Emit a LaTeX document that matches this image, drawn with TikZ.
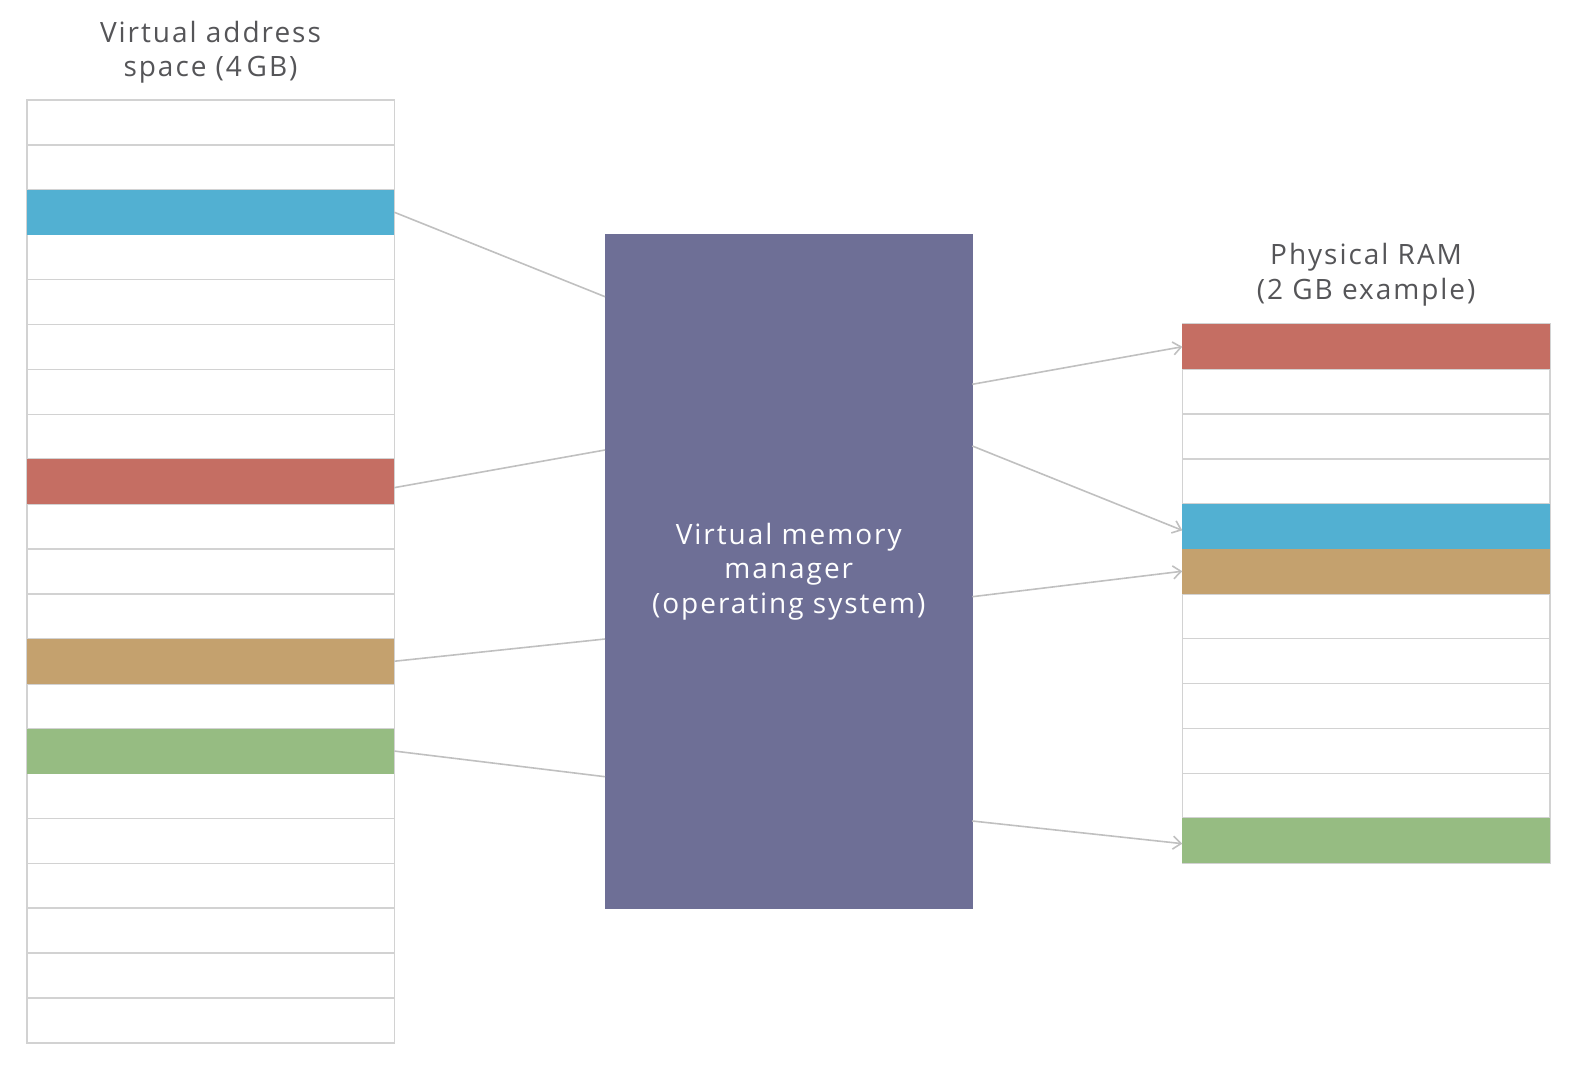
\documentclass[tikz,border=0pt]{standalone}
\usepackage{fontspec}
\setmainfont[LetterSpace=7]{Open Sans}
\usetikzlibrary{
    arrows.meta,
    positioning
}

\definecolor{pblue}{RGB}{82,176,210}
\definecolor{pred}{RGB}{197,110,99}
\definecolor{ptan}{RGB}{196,161,110}
\definecolor{pgreen}{RGB}{150,188,130}
\definecolor{vmmfill}{RGB}{110,111,150}
\definecolor{rowline}{RGB}{210,210,210}
\definecolor{linkgray}{RGB}{192,192,192}
\definecolor{labelgray}{RGB}{85,85,88}

\begin{document}
\begin{tikzpicture}[
    x=0.5pt, y=-0.5pt,
    font=\fontsize{14}{17.3}\selectfont,
    slot/.style={
        draw=rowline,
        line width=0.8pt,
        fill=white,
        anchor=north west,
        inner sep=0pt,
        outer sep=0pt,
        minimum width=183.8pt,
        minimum height=22.45pt
    },
    title/.style={text=labelgray, align=center, inner sep=0pt},
    link/.style={draw=linkgray, line width=0.8pt},
    arrow/.style={link, -{Straight Barb[length=4pt,width=6.5pt]}}
]

\useasboundingbox (0,0) rectangle (1596,1091);

\def\xl{26.7}
\def\xm{605}
\def\xr{1182.3}
\def\dy{44.9}

% ============================================================
% VIRTUAL ADDRESS SPACE (left) AND PHYSICAL RAM (right)
% ============================================================

\foreach \i in {1,...,21} {
    \node[slot] (v\i) at (\xl,{100+(\i-1)*\dy}) {};
}
\foreach \i in {1,...,12} {
    \node[slot] (r\i) at (\xr,{324.3+(\i-1)*\dy}) {};
}

\foreach \n/\c in {v3/pblue, v9/pred, v13/ptan, v15/pgreen,
                   r1/pred, r5/pblue, r6/ptan, r12/pgreen} {
    \fill[\c] (\n.north west) rectangle (\n.south east);
}

\node[title, above=8pt of v1.north] (vtitle) {Virtual address\\space (4\,GB)};
\node[title, above=9pt of r1.north] (rtitle) {Physical RAM\\(2 GB example)};

% ============================================================
% MANAGER
% ============================================================

\node[anchor=north west, fill=vmmfill, inner sep=0pt, outer sep=0pt,
    minimum width=183.8pt, minimum height=337.4pt,
    text=white, align=center] (vmm) at (\xm,234.3)
    {Virtual memory\\manager\\(operating system)};

\coordinate (in1) at (\xm,296.7);
\coordinate (in2) at (\xm,450);
\coordinate (in3) at (\xm,639);
\coordinate (in4) at (\xm,776.7);

\coordinate (out1) at (972.3,384.3);
\coordinate (out2) at (972.3,446);
\coordinate (out3) at (972.3,596.7);
\coordinate (out4) at (972.3,821);

\draw[link] (v3.east) -- (in1);
\draw[link] ([yshift=-3pt]v9.east) -- (in2);
\draw[link] (v13.east) -- (in3);
\draw[link] (v15.east) -- (in4);

\draw[arrow] (out1) -- (r1.west);
\draw[arrow] (out2) -- ([yshift=-2pt]r5.west);
\draw[arrow] (out3) -- (r6.west);
\draw[arrow] (out4) -- ([yshift=-1.5pt]r12.west);

\end{tikzpicture}
\end{document}
